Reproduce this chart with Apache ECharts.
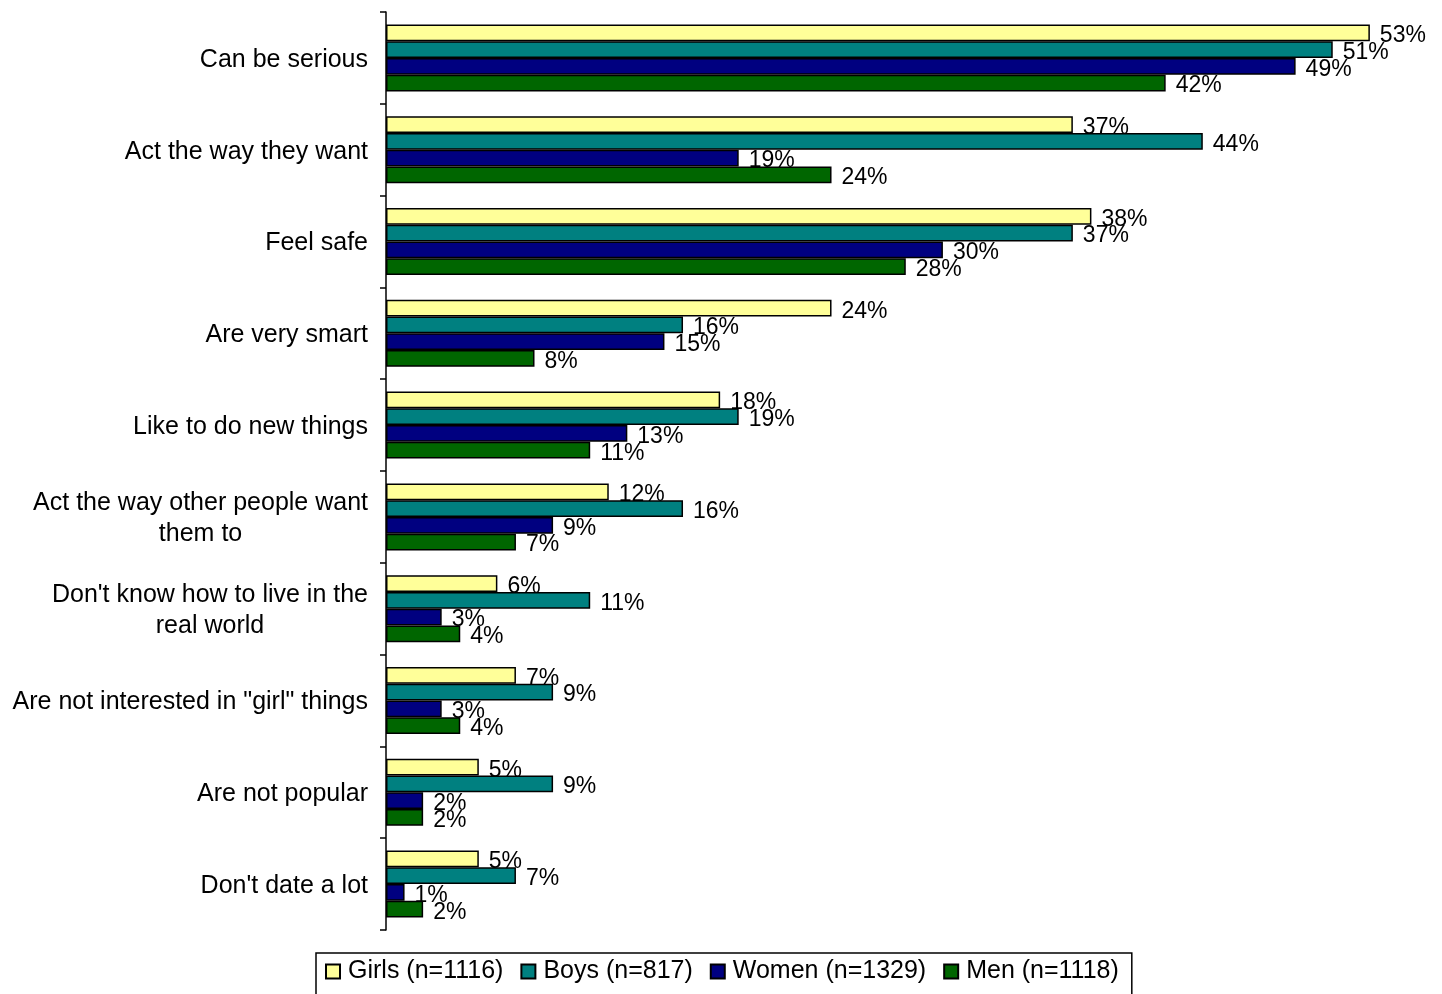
<!DOCTYPE html>
<html>
<head>
<meta charset="utf-8">
<script src="https://cdn.jsdelivr.net/npm/echarts@6/dist/echarts.min.js"></script>
<style>
  html, body { margin: 0; padding: 0; background: #fff; }
  #chart { width: 1442px; height: 994px; }
</style>
</head>
<body>
<div id="chart"></div>
<script>
var categories = [
  'Can be serious',
  'Act the way they want',
  'Feel safe',
  'Are very smart',
  'Like to do new things',
  'Act the way other people want\nthem to',
  "Don't know how to live in the\nreal world",
  'Are not interested in "girl" things',
  'Are not popular',
  "Don't date a lot"
];
var seriesNames = ['Girls (n=1116)', 'Boys (n=817)', 'Women (n=1329)', 'Men (n=1118)'];
var girls = [53, 37, 38, 24, 18, 12, 6, 7, 5, 5];
var boys  = [51, 44, 37, 16, 19, 16, 11, 9, 9, 7];
var women = [49, 19, 30, 15, 13, 9, 3, 3, 2, 1];
var men   = [42, 24, 28, 8, 11, 7, 4, 4, 2, 2];
var colors = ['#ffff99', '#008080', '#000080', '#006600'];

var FONT = '"Liberation Sans", Arial, sans-serif';

function makeSeries(name, data, color) {
  return {
    name: name,
    type: 'bar',
    data: data,
    barGap: 0,
    barCategoryGap: '27%',
    itemStyle: { color: color, borderColor: '#000', borderWidth: 1.5 },
    label: {
      show: true,
      position: 'right',
      distance: 10,
      formatter: '{c}%',
      color: '#000',
      fontSize: 23,
      fontFamily: FONT,
      offset: [0, 3]
    }
  };
}

var chart = echarts.init(document.getElementById('chart'));
chart.setOption({
  animation: false,
  backgroundColor: '#fff',
  grid: { left: 386, top: 12, bottom: 64, right: 35, containLabel: false },
  xAxis: {
    type: 'value',
    min: 0,
    max: 55,
    axisLine: { show: false },
    axisTick: { show: false },
    axisLabel: { show: false },
    splitLine: { show: false }
  },
  yAxis: {
    type: 'category',
    data: categories,
    inverse: true,
    axisLine: { show: true, lineStyle: { color: '#000', width: 1.5 } },
    axisTick: { show: true, length: 6, lineStyle: { color: '#000', width: 1.5 } },
    axisLabel: {
      margin: 18,
      color: '#000',
      fontSize: 25,
      fontFamily: FONT,
      formatter: function (v) {
        return v.split('\n').map(function (s) { return '{c|' + s + '}'; }).join('\n');
      },
      rich: {
        c: { align: 'center', fontSize: 25, lineHeight: 31, fontFamily: FONT, color: '#000', padding: [4, 0, 0, 0] }
      }
    }
  },
  legend: {
    left: 316,
    top: 953,
    orient: 'horizontal',
    padding: [6, 13, 16, 9],
    borderColor: '#000',
    borderWidth: 1.5,
    borderRadius: 0,
    itemWidth: 14,
    itemHeight: 14,
    itemGap: 17,
    icon: 'rect',
    textStyle: { color: '#000', fontSize: 25, fontFamily: FONT, padding: [0, 0, 0, 3] },
    data: seriesNames
  },
  series: [
    makeSeries(seriesNames[0], girls, colors[0]),
    makeSeries(seriesNames[1], boys, colors[1]),
    makeSeries(seriesNames[2], women, colors[2]),
    makeSeries(seriesNames[3], men, colors[3])
  ]
});
</script>
</body>
</html>
